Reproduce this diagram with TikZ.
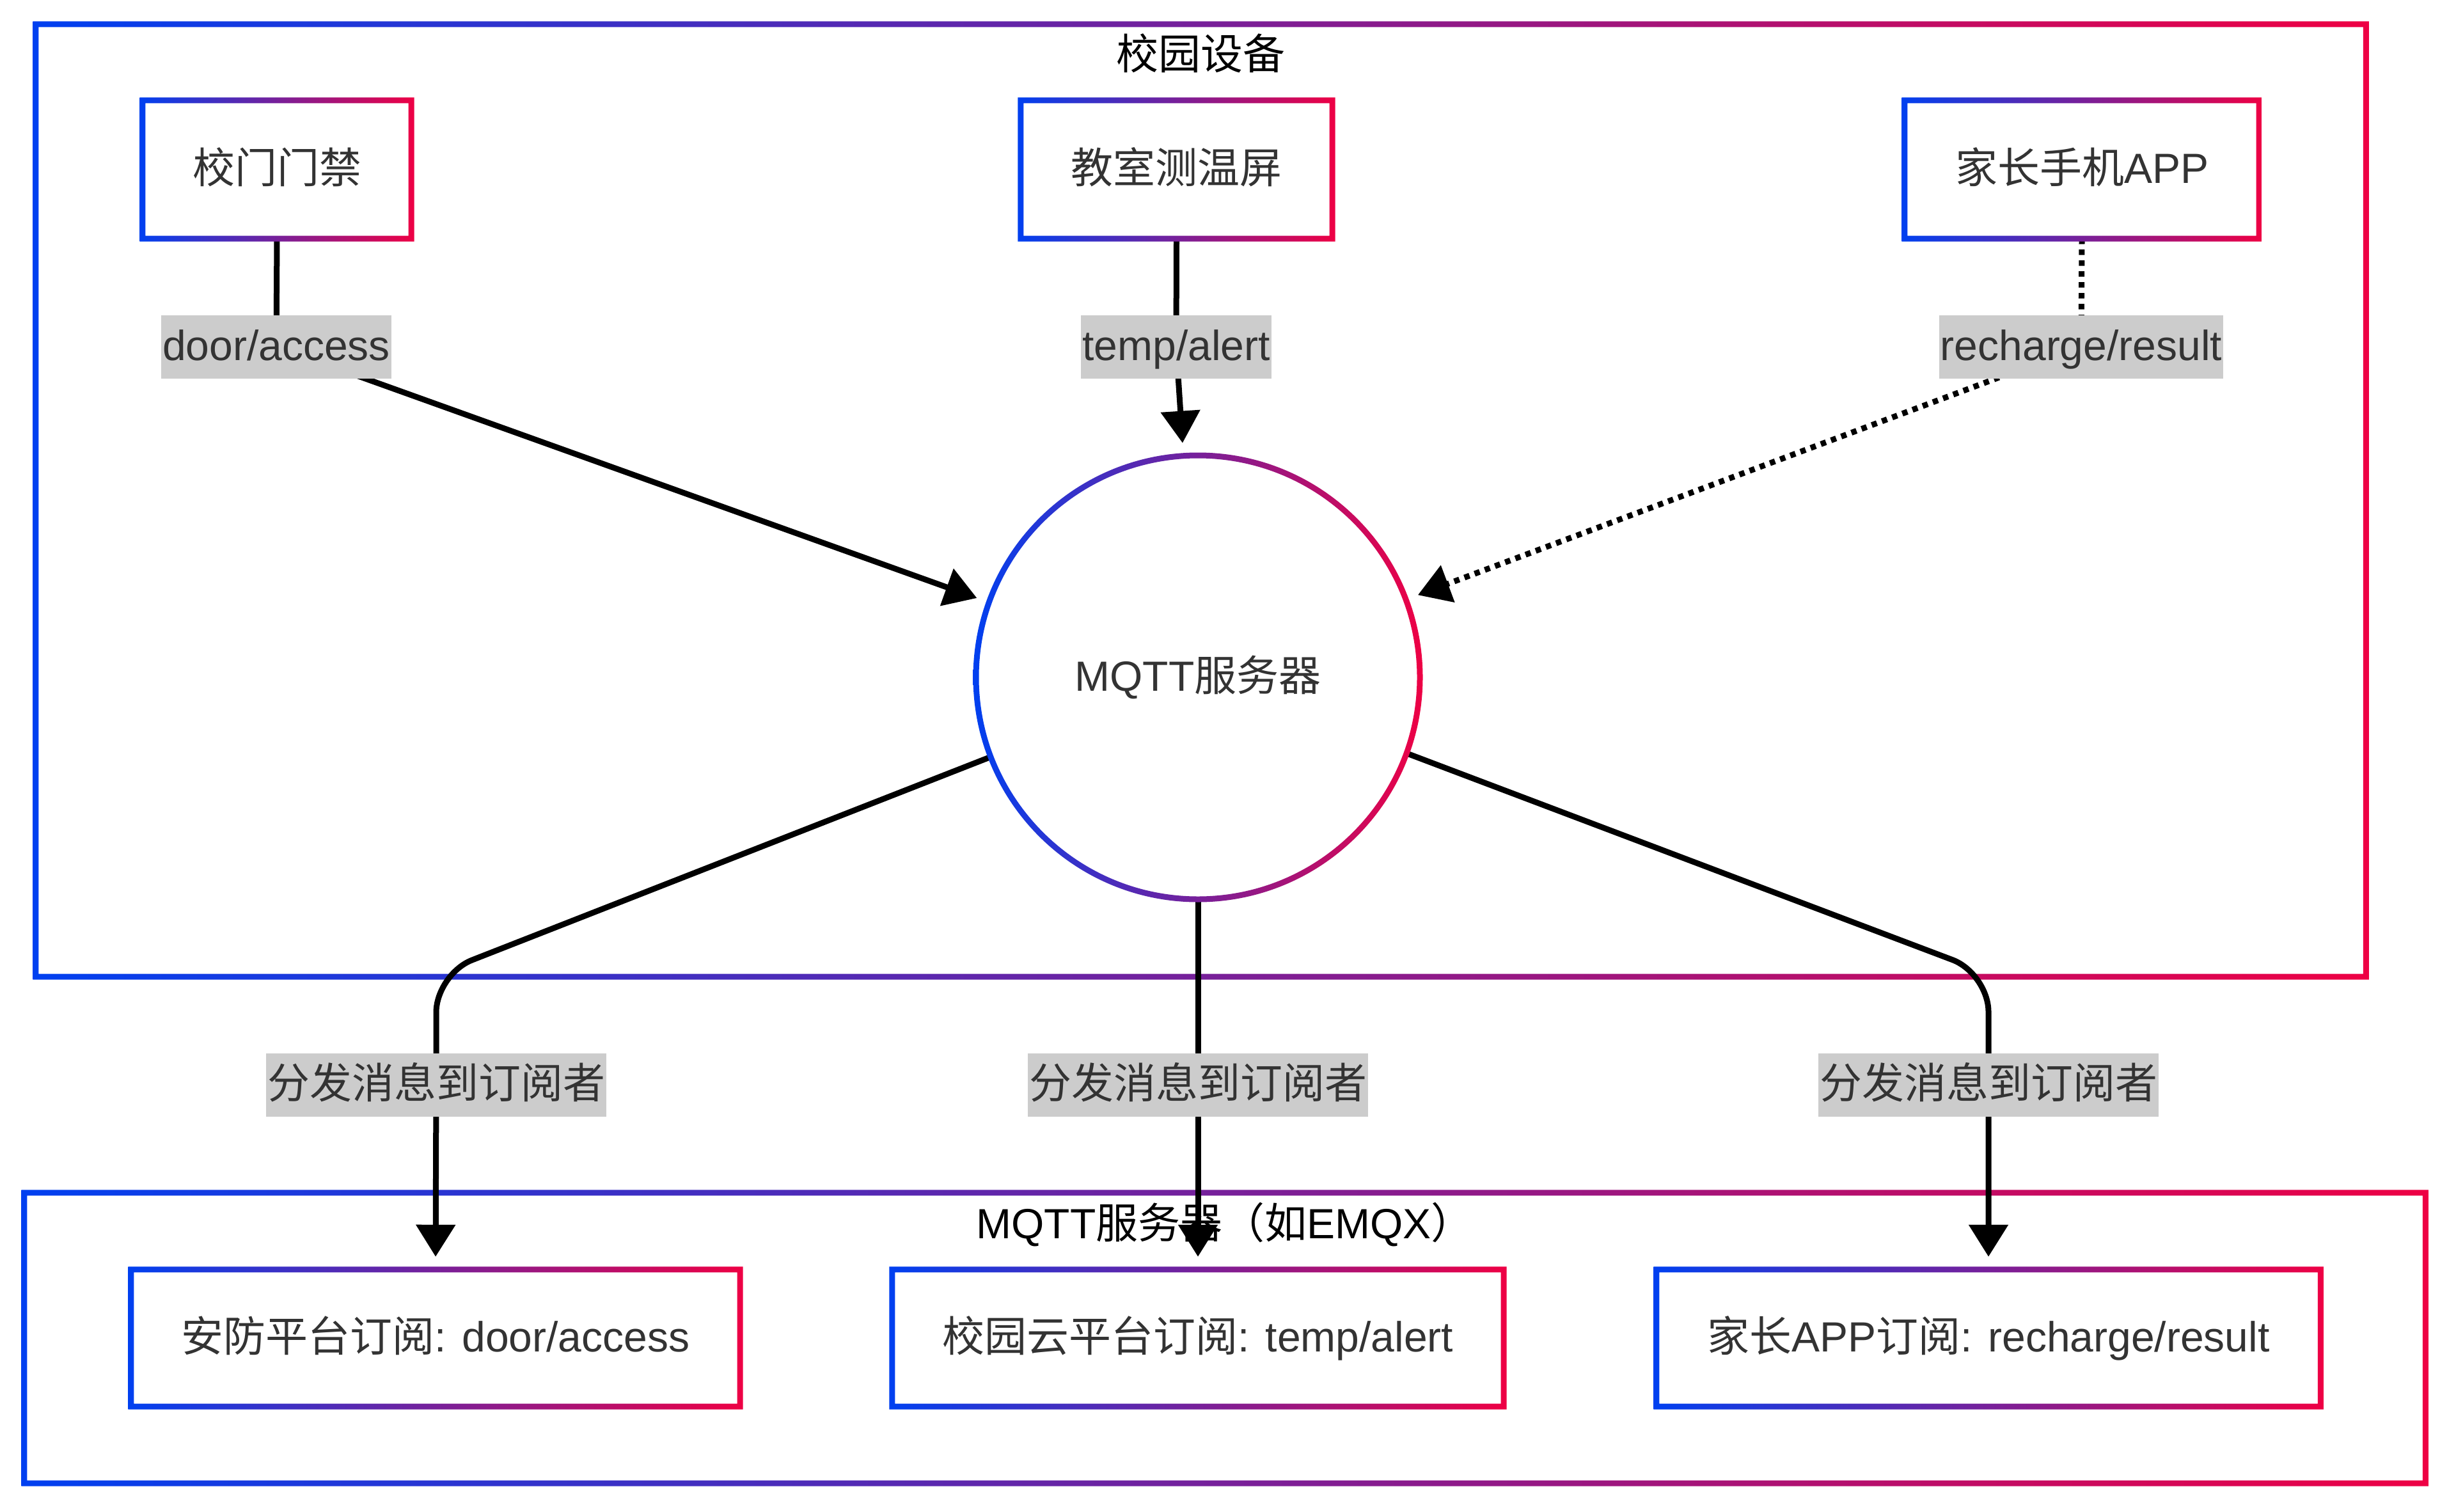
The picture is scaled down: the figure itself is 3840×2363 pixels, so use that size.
\documentclass[tikz,border=0pt]{standalone}
\usepackage{fontspec}
\setmainfont{Liberation Sans}
\newfontfamily\cjk{Noto Sans CJK SC}
\usetikzlibrary{arrows.meta,calc}
\definecolor{cblue}{RGB}{0,64,240}
\definecolor{cred}{RGB}{238,0,68}
\definecolor{txt}{HTML}{333333}
\definecolor{lblbg}{HTML}{CCCCCC}
\pgfdeclarelayer{back}
\pgfdeclarelayer{bg}
\pgfdeclarelayer{edges}
\pgfsetlayers{back,bg,edges,main}
\newcommand\gradring[1]{%
  \shade[even odd rule, left color=cblue, right color=cred]
    ($(#1.south west)+(-4.5,4.5)$) rectangle ($(#1.north east)+(4.5,-4.5)$)
    ($(#1.south west)+(4.5,-4.5)$) rectangle ($(#1.north east)+(-4.5,4.5)$);}
\tikzset{
  big/.style={font=\fontsize{66}{80}\selectfont, text height=46pt, text depth=4pt},
  grp/.style={rectangle, inner sep=0pt},
  grptitle/.style={big, inner sep=0pt, text=black},
  box/.style={big, rectangle, inner sep=0pt, text=txt, minimum height=216},
  sbox/.style={big, rectangle, inner sep=0pt, text=txt, minimum height=214},
  hub/.style={big, circle, inner sep=0pt, text=txt, minimum size=694},
  lbl/.style={big, rectangle, fill=lblbg, inner xsep=2pt, inner ysep=0pt, minimum height=99, text=txt},
  edge/.style={line width=9pt, black, -{Triangle[length=50pt,width=60pt]}},
  dotedge/.style={edge, dash pattern=on 8.5pt off 8.5pt}
}
\begin{document}
\begin{tikzpicture}[x=1pt,y=-1pt]
\useasboundingbox (0,0) rectangle (3840,2363);
\begin{pgfonlayer}{back}
\fill[white] (0,0) rectangle (3840,2363);
\end{pgfonlayer}

% groups
\begin{pgfonlayer}{bg}
\node[grp, minimum width=3643, minimum height=1489] (g1) at (1877.5,782.5) {};
\gradring{g1}
\node[grp, minimum width=3754, minimum height=454] (g2) at (1915,2092) {};
\gradring{g2}
\node[grptitle] (g1t) at (1877,88) {{\cjk 校园设备}};
\node[grptitle] (g2t) at (1915,1915) {MQTT{\cjk 服务器（如}EMQX{\cjk ）}};
\end{pgfonlayer}

% nodes
\node[box, minimum width=420] (door) at (433,265) {{\cjk 校门门禁}};
\gradring{door}
\node[box, minimum width=487] (temp) at (1839.5,265) {{\cjk 教室测温屏}};
\gradring{temp}
\node[box, minimum width=554] (app) at (3255,265) {{\cjk 家长手机}APP};
\gradring{app}
\node[hub] (mqtt) at (1873,1059) {MQTT{\cjk 服务器}};
\shade[even odd rule, left color=cblue, right color=cred]
  (mqtt.center) circle (351.5pt) (mqtt.center) circle (342.5pt);
\node[sbox, minimum width=952] (sub1) at (681,2092) {{\cjk 安防平台订阅}: door/access};
\gradring{sub1}
\node[sbox, minimum width=956] (sub2) at (1873,2092) {{\cjk 校园云平台订阅}: temp/alert};
\gradring{sub2}
\node[sbox, minimum width=1038] (sub3) at (3109,2092) {{\cjk 家长}APP{\cjk 订阅}: recharge/result};
\gradring{sub3}

% edge labels
\node[lbl] (l1) at (432,542) {door/access};
\node[lbl] (l2) at (1839,542) {temp/alert};
\node[lbl] (l3) at (3254,542) {recharge/result};
\node[lbl] (l4) at (682,1696) {{\cjk 分发消息到订阅者}};
\node[lbl] (l5) at (1873,1696) {{\cjk 分发消息到订阅者}};
\node[lbl] (l6) at (3109,1696) {{\cjk 分发消息到订阅者}};

\coordinate (c1) at (682,1523);
\coordinate (c3) at (3109,1522);

% edges
\begin{pgfonlayer}{edges}
\draw[edge, shorten >=20pt] (door.south) -- (l1.center) -- (mqtt);
\draw[edge, shorten >=20pt] (temp.south) -- (l2.center) -- (mqtt);
\draw[dotedge, shorten >=20pt] (app.south) -- (l3.center) -- (mqtt);
\draw[edge, rounded corners=60pt, shorten >=20pt] (mqtt.201) -- (c1) -- (l4.center) -- (sub1.north);
\draw[edge, shorten >=20pt] (mqtt.south) -- (l5.center) -- (sub2.north);
\draw[edge, rounded corners=60pt, shorten >=20pt] (mqtt.340) -- (c3) -- (l6.center) -- (sub3.north);
\end{pgfonlayer}
\end{tikzpicture}
\end{document}
